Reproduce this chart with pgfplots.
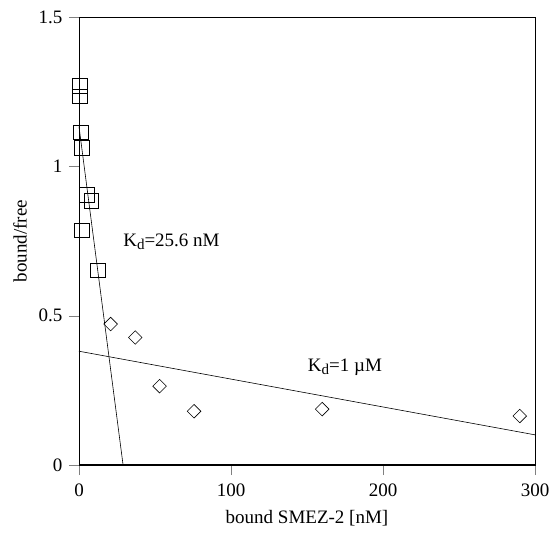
\documentclass[border=0pt]{standalone}
\usepackage{fontspec}
\setmainfont{Liberation Serif}
\usepackage{pgfplots}
\pgfplotsset{compat=1.18}
\newcommand{\Kd}{K\raisebox{-0.4ex}{\fontsize{15}{15}\selectfont d}}

\begin{document}
\fontsize{19}{22}\selectfont
\begin{tikzpicture}
\begin{axis}[
    name=main,
    scale only axis,
    width=456pt,
    height=448pt,
    xmin=0, xmax=300,
    ymin=0, ymax=1.5,
    xtick={0,100,200,300},
    ytick={0,0.5,1,1.5},
    tick align=outside,
    xtick pos=bottom,
    ytick pos=left,
    major tick length=10pt,
    axis line style={line width=0.6pt},
    /pgf/number format/assume math mode=true,
    tick label style={font=\fontsize{19}{22}\selectfont},
    label style={font=\fontsize{19}{22}\selectfont},
    xticklabel style={yshift=-2pt},
    xlabel={bound SMEZ-2 [nM]},
    ylabel={bound/free},
    xlabel style={yshift=-1pt},
    ylabel style={yshift=-1pt},
    clip=false,
]
% high-affinity points
\addplot[only marks, mark=square, mark size=7.3pt, mark options={line width=0.6pt}] coordinates {
  (0.7,1.27) (0.7,1.234) (1,1.114) (2,1.062) (5,0.905) (8,0.885) (2,0.786) (12.5,0.652)
};
% low-affinity points
\addplot[only marks, mark=square, mark size=4.8pt, mark options={rotate=45, line width=0.6pt}] coordinates {
  (20.8,0.472) (37,0.427) (53,0.264) (75.7,0.18) (160,0.187) (290,0.164)
};
% fits
\addplot[black, line width=0.6pt] coordinates {(0,1.133) (29,0)};
\addplot[black, line width=0.6pt] coordinates {(0,0.381) (300,0.101)};
\addplot[black, line width=1.4pt] coordinates {(0,0) (300,0)};
\node[anchor=base west, inner sep=0pt] at (axis cs:29,0.732) {\Kd=25.6 nM};
\node[anchor=base west, inner sep=0pt] at (axis cs:150.5,0.314) {\Kd=1 µM};
\end{axis}
\pgfresetboundingbox
\path ([xshift=-79pt,yshift=-68pt]main.south west) rectangle ([xshift=20pt,yshift=17pt]main.north east);
\end{tikzpicture}
\end{document}
